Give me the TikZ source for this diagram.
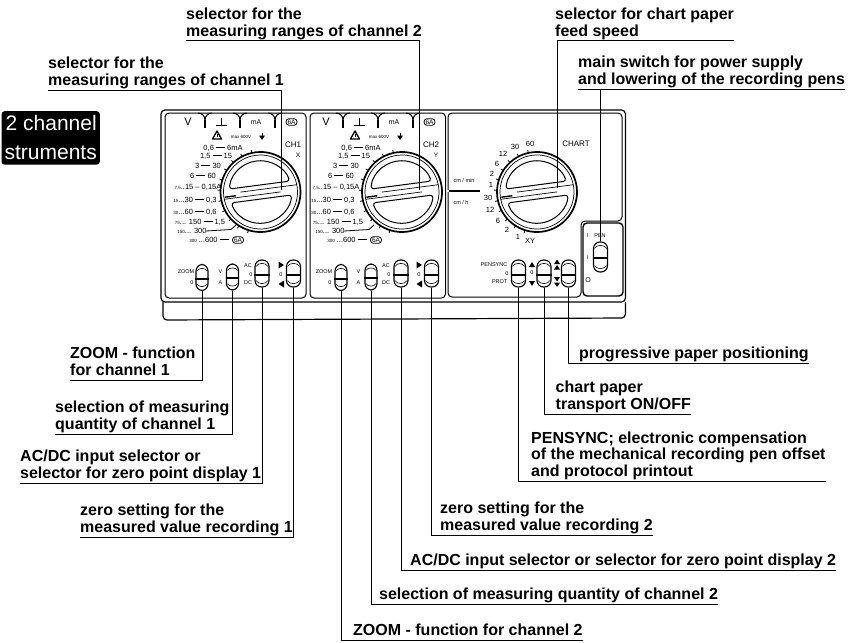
\documentclass[tikz,border=0pt]{standalone}
\usepackage{fontspec}
\setmainfont{Liberation Sans}
\usetikzlibrary{positioning,calc}
\newcommand{\rdash}{\rule[2.2pt]{9pt}{1pt}}
\newcommand{\tinynum}[1]{{\fontsize{4.5}{5}\selectfont #1}}
\begin{document}
\begin{tikzpicture}[x=1pt,y=1pt,
    lbl/.style={inner sep=0pt, anchor=south west, align=left, font=\fontsize{16}{16.4}\selectfont\bfseries, execute at end node={\rule[-4.5pt]{0pt}{1pt}}},
    leader/.style={line width=1pt},
    panel/.style={line width=1pt, rounded corners=4pt},
    slider/.style={draw, line width=1.1pt, rounded corners=6.5pt, minimum width=12pt, minimum height=26pt, inner sep=0pt},
    tinytxt/.style={inner sep=0pt, font=\fontsize{5.5}{6}\selectfont},
    rowtxt/.style={inner sep=0pt, font=\fontsize{7.5}{8}\selectfont},
]
\useasboundingbox (0,0) rectangle (864,-642);

% housing
\draw[panel, line width=1.2pt] (163,-302) -- (163,-320) -- (625.5,-318) -- (625.5,-302);
\draw[panel, line width=1.2pt] (161,-302) rectangle (625.5,-110);
\draw[panel] (165,-298) rectangle (306,-113);
\draw[panel] (310,-298) rectangle (445.5,-113);
\draw[panel] (448,-190) -- (448,-113) -- (622,-113) -- (622,-221) -- (581,-221) -- (581,-297) -- (448,-297) -- (448,-192);
\draw[panel, line width=1.4pt] (583,-296) rectangle (623,-223);
\draw[line width=2pt] (449,-191) -- (480,-191);

% black tag
\node[fill=black, text=white, rounded corners=3pt, anchor=north east, align=right, inner xsep=3pt, inner ysep=4.5pt, font=\fontsize{21}{29}\selectfont] (tag) at (100,-111) {2 channel\\struments};

% channel faces
\foreach \off/\ch/\axis/\nm in {0/CH1/X/a, 138/CH2/Y/b} {
  \foreach \sepx in {205,240,275} {
    \draw[line width=1.8pt] (\sepx+\off,-128) -- (\sepx+\off,-120);
    \draw[line width=1pt] (\sepx+\off,-120) to[out=90,in=0] (\sepx+\off-7,-113);
    \draw[line width=1pt] (\sepx+\off,-120) to[out=90,in=180] (\sepx+\off+7,-113);
  }
  \node[inner sep=0pt, font=\fontsize{11}{12}\selectfont] (tabv\nm) at (188+\off,-122) {V};
  \draw[line width=1pt] (221.5+\off,-118) -- (221.5+\off,-125);
  \draw[line width=1.2pt] (216+\off,-125.5) -- (227+\off,-125.5);
  \node[tinytxt, font=\fontsize{7}{8}\selectfont] (tabma\nm) at (256+\off,-122) {mA};
  \node[draw, rounded corners=3pt, line width=.8pt, inner xsep=1.5pt, inner ysep=1pt, font=\fontsize{6.5}{7}\selectfont] (tabsix\nm) at (291.5+\off,-122) {6A};
  \draw[line width=1.3pt, line join=round] (212.5+\off,-139) -- (217+\off,-131) -- (221.5+\off,-139) -- cycle;
  \draw[line width=1pt] (217+\off,-133.5) -- (217+\off,-137);
  \node[tinytxt, font=\fontsize{4.5}{5}\selectfont] (maxv\nm) at (241+\off,-137) {max 600V};
  \fill (259+\off,-135.5) -- (265+\off,-135.5) -- (262+\off,-140) -- cycle;
  \draw[line width=.8pt] (262+\off,-133) -- (262+\off,-137);
  \node[inner sep=0pt, font=\fontsize{8}{9}\selectfont] (chan\nm) at (293+\off,-145) {\ch};
  \node[inner sep=0pt, font=\fontsize{6.5}{7}\selectfont] (axis\nm) at (298+\off,-155) {\axis};
  \foreach \rx/\ry/\rtxt/\rn in {
    223/148/{0,6 \rdash{} 6mA}/p, 216/156/{1,5 \rdash{} 15}/q, 208/166/{3 \rdash{} 30}/r, 203/176/{6 \rdash{} 60}/s,
    198/187/{\tinynum{7,5}..15 – 0,15A}/t, 195/200/{\tinynum{15}...30 \rdash{} 0,3}/u, 195/212/{\tinynum{30}...60 \rdash{} 0,6}/v,
    200/222/{\tinynum{75}... 150 \rdash{} 1,5}/w, 192/231/{\tinynum{150}... 300}/x, 209/240/{\tinynum{300} ...600 \rdash}/y} {
    \node[rowtxt] (row\rn\nm) at (\rx+\off,-\ry) {\rtxt};
  }
  \node[draw, rounded corners=3pt, line width=.8pt, inner xsep=1.5pt, inner ysep=1pt, font=\fontsize{6.5}{7}\selectfont] (sixa\nm) at (238+\off,-240) {6A};
  \draw[line width=.8pt] (206+\off,-231) -- (231+\off,-229.5) -- (236+\off,-225);
  \node[rowtxt, anchor=east, font=\fontsize{5.5}{6}\selectfont] (zooma\nm) at (194.5+\off,-272) {ZOOM};
  \node[rowtxt, font=\fontsize{5.5}{6}\selectfont] (zoomo\nm) at (192+\off,-283) {0};
  \node[rowtxt, font=\fontsize{5.5}{6}\selectfont] (qv\nm) at (220.5+\off,-272) {V};
  \node[rowtxt, font=\fontsize{5.5}{6}\selectfont] (qa\nm) at (220.5+\off,-283) {A};
  \node[rowtxt, font=\fontsize{5.5}{6}\selectfont] (acs\nm) at (248+\off,-266) {AC};
  \node[rowtxt, font=\fontsize{5.5}{6}\selectfont] (aco\nm) at (251+\off,-275) {0};
  \node[rowtxt, font=\fontsize{5.5}{6}\selectfont] (dcs\nm) at (248+\off,-283) {DC};
  \fill (278.5+\off,-261.5) -- (284+\off,-265) -- (278.5+\off,-268.5) -- cycle;
  \node[rowtxt, font=\fontsize{5.5}{6}\selectfont] (zero\nm) at (281+\off,-275) {0};
  \fill (284+\off,-280.5) -- (278.5+\off,-284) -- (284+\off,-287.5) -- cycle;
}

% chart face
\foreach \tx/\ty/\ttxt/\tn in {530/144/60/a, 515/147/30/b, 503/154/12/c, 497/164/6/d, 492/174/2/e, 491/185/1/f,
    488/198/30/g, 490/210/12/h, 498/221/6/i, 507/230/2/j, 518/237/1/k, 530/241/XY/l} {
  \node[rowtxt] (speed\tn) at (\tx,-\ty) {\ttxt};
}
\node[inner sep=0pt, font=\fontsize{8}{9}\selectfont] (chartname) at (576,-144) {CHART};
\node[tinytxt] (cmmin) at (464,-181) {cm / min};
\node[tinytxt] (cmh) at (461,-203) {cm / h};
\node[tinytxt, anchor=east] (pensync) at (507.5,-265) {PENSYNC};
\node[tinytxt] (penzero) at (507,-274) {0};
\node[tinytxt, anchor=east] (prot) at (507.5,-282) {PROT};
\fill (529,-267) -- (535,-267) -- (532,-262) -- cycle;
\node[tinytxt] (transzero) at (532,-273) {0};
\fill (529,-281) -- (535,-281) -- (532,-286) -- cycle;
\fill (554,-264) -- (560,-264) -- (557,-259.5) -- cycle;
\fill (554,-269.5) -- (560,-269.5) -- (557,-265) -- cycle;
\fill (554,-277) -- (560,-277) -- (557,-281.5) -- cycle;
\fill (554,-282.5) -- (560,-282.5) -- (557,-287) -- cycle;
\node[tinytxt] (peni) at (588,-236) {I};
\node[tinytxt] (penname) at (600,-235.5) {PEN};
\node[tinytxt] (penii) at (588,-258) {I};
\node[inner sep=0pt, font=\fontsize{7}{8}\selectfont] (peno) at (588,-280) {O};

% dials
\foreach \dx/\nm in {260.5/a, 402/b, 537/c} {
  \begin{scope}[shift={(\dx,-192)}, rotate=7.5]
    \draw[line width=1.7pt] (0,0) circle[radius=40];
    \draw[line width=.7pt] (0,0) circle[radius=37];
    \draw[line width=1pt, rounded corners=3pt] (-30.5,7) arc[start angle=167, end angle=13, radius=31.3] -- cycle;
    \draw[line width=1pt, rounded corners=3pt] (-30.5,-7) arc[start angle=193, end angle=347, radius=31.3] -- cycle;
    \draw[line width=.7pt] (-20,2.5) -- (37,2.5);
    \draw[line width=.7pt] (-37,-2.5) -- (20,-2.5);
    \draw[line width=1.4pt] (-36,-.5) -- (-25,-.5);
    \foreach \tk in {95,110,...,245} {
      \draw[line width=.8pt] (\tk:40) -- (\tk:43);
    }
  \end{scope}
}
\coordinate (rangea) at (281,-190);
\coordinate (rangeb) at (419,-190);
\coordinate (feed) at (557,-188);

% sliders
\foreach \sname/\sx/\sy/\sw/\sh in {zooma/202/277.5/12/26, quana/232.5/277/12/26, acdca/262/273.5/14/27, zeroa/293.5/273.5/14/27,
    zoomb/341/277.5/12/26, quanb/371/277/12/26, acdcb/401/273.5/14/27, zerob/431.5/273.5/14/27,
    penc/518.5/273.5/14/27, trans/544/273.5/14/27, prog/568.5/273.5/14/27, power/600.5/257/14/30} {
  \node[slider, minimum width=\sw pt, minimum height=\sh pt] (sw\sname) at (\sx,-\sy) {};
  \draw[line width=.6pt] ($(sw\sname.north west)+(1.5,-7)$) to[out=60,in=120] ($(sw\sname.north east)+(-1.5,-7)$);
  \draw[line width=.6pt] ($(sw\sname.south west)+(1.5,7)$) to[out=-60,in=-120] ($(sw\sname.south east)+(-1.5,7)$);
  \draw[line width=2pt] ($(sw\sname.west)+(0,-1)$) -- ($(sw\sname.east)+(0,-1)$);
}

% labels
\node[lbl] (lblrangea) at (48,-90) {selector for the\\measuring ranges of channel 1};
\node[lbl] (lblrangeb) at (186,-41) {selector for the\\measuring ranges of channel 2};
\node[lbl] (lblfeed) at (555,-41) {selector for chart paper\\feed speed};
\node[lbl] (lblpower) at (578,-89) {main switch for power supply\\and lowering of the recording pens};
\node[lbl] (lblzooma) at (70,-380) {ZOOM - function\\for channel 1};
\node[lbl] (lblquana) at (55,-434) {selection of measuring\\quantity of channel 1};
\node[lbl] (lblacdca) at (20,-483) {AC/DC input selector or\\selector for zero point display 1};
\node[lbl] (lblzeroa) at (80,-537) {zero setting for the\\measured value recording 1};
\node[lbl] (lblprog) at (579,-363) {progressive paper positioning};
\node[lbl] (lbltrans) at (555.5,-414) {chart paper\\transport ON/OFF};
\node[lbl] (lblpenc) at (531,-481) {PENSYNC; electronic compensation\\of the mechanical recording pen offset\\and protocol printout};
\node[lbl] (lblzerob) at (440,-535) {zero setting for the\\measured value recording 2};
\node[lbl] (lblacdcb) at (410,-570) {AC/DC input selector or selector for zero point display 2};
\node[lbl] (lblquanb) at (379,-604) {selection of measuring quantity of channel 2};
\node[lbl] (lblzoomb) at (353,-640) {ZOOM - function for channel 2};

% leaders
\draw[leader] (rangea) |- (lblrangea.south west);
\draw[leader] (rangeb) |- (lblrangeb.south west);
\draw[leader] (feed) |- (lblfeed.south east);
\draw[leader] (lblpower.south west) -- (lblpower.south east);
\draw[leader] (swpower.north) -- (swpower.north |- lblpower.south);
\draw[leader] (swzooma.south) |- (lblzooma.south west);
\draw[leader] (swquana.south) |- (lblquana.south west);
\draw[leader] (swacdca.south) |- (lblacdca.south west);
\draw[leader] (swzeroa.south) |- (lblzeroa.south west);
\draw[leader] (swprog.south) |- (lblprog.south east);
\draw[leader] (swtrans.south) |- (lbltrans.south east);
\draw[leader] (swpenc.south) |- (lblpenc.south east);
\draw[leader] (swzerob.south) |- (lblzerob.south east);
\draw[leader] (swacdcb.south) |- (lblacdcb.south east);
\draw[leader] (swquanb.south) |- (lblquanb.south east);
\draw[leader] (swzoomb.south) |- (lblzoomb.south east);
\end{tikzpicture}
\end{document}
